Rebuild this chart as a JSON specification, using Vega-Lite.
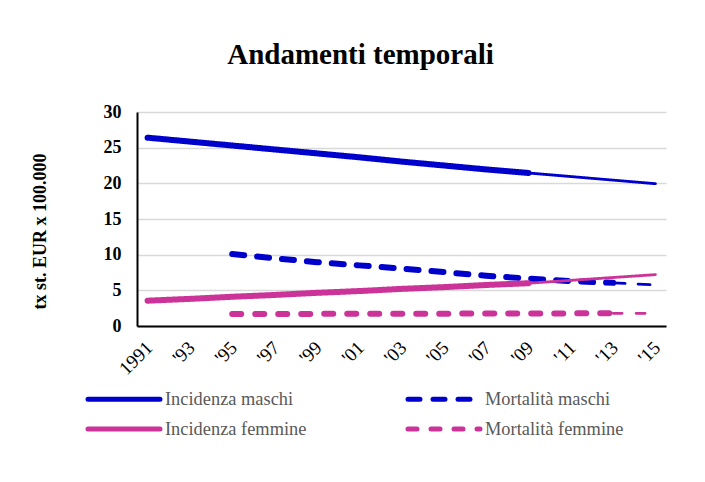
{
  "$schema": "https://vega.github.io/schema/vega-lite/v6.json",
  "width": 529,
  "height": 214,
  "autosize": {"type": "none"},
  "padding": {"left": 137, "top": 112, "right": 39, "bottom": 156},
  "background": "white",
  "config": {"view": {"stroke": null}},
  "title": {"text": "Andamenti temporali", "font": "Liberation Serif", "fontSize": 29, "fontWeight": "bold", "color": "black", "anchor": "middle", "dx": -41, "offset": 10, "baseline": "alphabetic"},
  "data": {"values": [
    {"anno": 1991, "valore": 26.4, "serie": "Incidenza maschi", "fase": "oss"},
    {"anno": 1993, "valore": 25.85, "serie": "Incidenza maschi", "fase": "oss"},
    {"anno": 1995, "valore": 25.3, "serie": "Incidenza maschi", "fase": "oss"},
    {"anno": 1997, "valore": 24.75, "serie": "Incidenza maschi", "fase": "oss"},
    {"anno": 1999, "valore": 24.2, "serie": "Incidenza maschi", "fase": "oss"},
    {"anno": 2001, "valore": 23.65, "serie": "Incidenza maschi", "fase": "oss"},
    {"anno": 2003, "valore": 23.05, "serie": "Incidenza maschi", "fase": "oss"},
    {"anno": 2005, "valore": 22.5, "serie": "Incidenza maschi", "fase": "oss"},
    {"anno": 2007, "valore": 21.95, "serie": "Incidenza maschi", "fase": "oss"},
    {"anno": 2009, "valore": 21.45, "serie": "Incidenza maschi", "fase": "oss"},
    {"anno": 2009, "valore": 21.45, "serie": "Incidenza maschi", "fase": "proj"},
    {"anno": 2011, "valore": 20.95, "serie": "Incidenza maschi", "fase": "proj"},
    {"anno": 2013, "valore": 20.45, "serie": "Incidenza maschi", "fase": "proj"},
    {"anno": 2015, "valore": 19.95, "serie": "Incidenza maschi", "fase": "proj"},
    {"anno": 1995, "valore": 10.1, "serie": "Mortalità maschi", "fase": "oss"},
    {"anno": 1997, "valore": 9.5, "serie": "Mortalità maschi", "fase": "oss"},
    {"anno": 1999, "valore": 8.95, "serie": "Mortalità maschi", "fase": "oss"},
    {"anno": 2001, "valore": 8.5, "serie": "Mortalità maschi", "fase": "oss"},
    {"anno": 2003, "valore": 8.05, "serie": "Mortalità maschi", "fase": "oss"},
    {"anno": 2005, "valore": 7.55, "serie": "Mortalità maschi", "fase": "oss"},
    {"anno": 2007, "valore": 7.05, "serie": "Mortalità maschi", "fase": "oss"},
    {"anno": 2009, "valore": 6.65, "serie": "Mortalità maschi", "fase": "oss"},
    {"anno": 2011, "valore": 6.3, "serie": "Mortalità maschi", "fase": "oss"},
    {"anno": 2013, "valore": 6.05, "serie": "Mortalità maschi", "fase": "oss"},
    {"anno": 2013, "valore": 6.05, "serie": "Mortalità maschi", "fase": "proj"},
    {"anno": 2015, "valore": 5.75, "serie": "Mortalità maschi", "fase": "proj"},
    {"anno": 1991, "valore": 3.55, "serie": "Incidenza femmine", "fase": "oss"},
    {"anno": 1993, "valore": 3.8, "serie": "Incidenza femmine", "fase": "oss"},
    {"anno": 1995, "valore": 4.1, "serie": "Incidenza femmine", "fase": "oss"},
    {"anno": 1997, "valore": 4.35, "serie": "Incidenza femmine", "fase": "oss"},
    {"anno": 1999, "valore": 4.65, "serie": "Incidenza femmine", "fase": "oss"},
    {"anno": 2001, "valore": 4.9, "serie": "Incidenza femmine", "fase": "oss"},
    {"anno": 2003, "valore": 5.2, "serie": "Incidenza femmine", "fase": "oss"},
    {"anno": 2005, "valore": 5.45, "serie": "Incidenza femmine", "fase": "oss"},
    {"anno": 2007, "valore": 5.75, "serie": "Incidenza femmine", "fase": "oss"},
    {"anno": 2009, "valore": 6.0, "serie": "Incidenza femmine", "fase": "oss"},
    {"anno": 2009, "valore": 6.0, "serie": "Incidenza femmine", "fase": "proj"},
    {"anno": 2011, "valore": 6.4, "serie": "Incidenza femmine", "fase": "proj"},
    {"anno": 2013, "valore": 6.8, "serie": "Incidenza femmine", "fase": "proj"},
    {"anno": 2015, "valore": 7.2, "serie": "Incidenza femmine", "fase": "proj"},
    {"anno": 1995, "valore": 1.68, "serie": "Mortalità femmine", "fase": "oss"},
    {"anno": 1997, "valore": 1.69, "serie": "Mortalità femmine", "fase": "oss"},
    {"anno": 1999, "valore": 1.7, "serie": "Mortalità femmine", "fase": "oss"},
    {"anno": 2001, "valore": 1.71, "serie": "Mortalità femmine", "fase": "oss"},
    {"anno": 2003, "valore": 1.72, "serie": "Mortalità femmine", "fase": "oss"},
    {"anno": 2005, "valore": 1.73, "serie": "Mortalità femmine", "fase": "oss"},
    {"anno": 2007, "valore": 1.75, "serie": "Mortalità femmine", "fase": "oss"},
    {"anno": 2009, "valore": 1.76, "serie": "Mortalità femmine", "fase": "oss"},
    {"anno": 2011, "valore": 1.77, "serie": "Mortalità femmine", "fase": "oss"},
    {"anno": 2013, "valore": 1.78, "serie": "Mortalità femmine", "fase": "oss"},
    {"anno": 2013, "valore": 1.78, "serie": "Mortalità femmine", "fase": "proj"},
    {"anno": 2015, "valore": 1.78, "serie": "Mortalità femmine", "fase": "proj"}
  ]},
  "mark": {"type": "line", "strokeCap": "round", "strokeJoin": "round"},
  "encoding": {
    "x": {
      "field": "anno", "type": "quantitative",
      "scale": {"domain": [1990.5, 2015.5], "nice": false, "zero": false},
      "axis": {
        "values": [1991, 1993, 1995, 1997, 1999, 2001, 2003, 2005, 2007, 2009, 2011, 2013, 2015],
        "labelExpr": "datum.value == 1991 ? '1991' : \"'\" + substring(toString(datum.value), 2, 4)",
        "labelAngle": -45, "labelFont": "Liberation Serif", "labelFontSize": 19, "labelColor": "black",
        "labelOverlap": false, "labelFlush": false, "labelPadding": 12, "labelOffset": -5,
        "ticks": false, "grid": false, "domainColor": "black", "domainWidth": 2, "title": null
      }
    },
    "y": {
      "field": "valore", "type": "quantitative",
      "scale": {"domain": [0, 30], "nice": false},
      "axis": {
        "values": [0, 5, 10, 15, 20, 25, 30],
        "labelFont": "Liberation Serif", "labelFontSize": 18, "labelFontWeight": "bold", "labelColor": "black",
        "labelPadding": 16, "ticks": false,
        "gridColor": "#D9D9D9", "gridWidth": 1.3,
        "domainColor": "black", "domainWidth": 2,
        "title": "tx st. EUR x 100.000", "titleFont": "Liberation Serif", "titleFontSize": 18, "titleFontWeight": "bold", "titleColor": "black",
        "titleAngle": -90, "titleX": -97, "titleY": 119, "titleAlign": "center", "titleBaseline": "middle"
      }
    },
    "color": {
      "field": "serie", "type": "nominal",
      "scale": {"domain": ["Incidenza maschi", "Incidenza femmine", "Mortalità maschi", "Mortalità femmine"], "range": ["#0000CC", "#CC3399", "#0000CC", "#CC3399"]},
      "legend": {
        "orient": "none", "legendX": -25.5, "legendY": 274.5, "columns": 2, "title": null,
        "symbolType": "M-3.6,0H3.6", "symbolSize": 400, "symbolStrokeWidth": 5,
        "labelFont": "Liberation Serif", "labelFontSize": 18.4, "labelColor": "#595959", "labelOffset": 28.5, "labelLimit": 300,
        "columnPadding": 91, "rowPadding": 7,
        "encode": {"symbols": {"update": {"strokeCap": {"value": "round"}}}}
      }
    },
    "strokeDash": {
      "field": "serie", "type": "nominal",
      "scale": {"domain": ["Incidenza maschi", "Incidenza femmine", "Mortalità maschi", "Mortalità femmine"], "range": [[1, 0], [1, 0], [12, 13], [9, 14]]},
      "legend": {
        "orient": "none", "legendX": -25.5, "legendY": 274.5, "columns": 2, "title": null,
        "symbolType": "M-3.6,0H3.6", "symbolSize": 400, "symbolStrokeWidth": 5,
        "labelFont": "Liberation Serif", "labelFontSize": 18.4, "labelColor": "#595959", "labelOffset": 28.5, "labelLimit": 300,
        "columnPadding": 91, "rowPadding": 7,
        "encode": {"symbols": {"update": {"strokeCap": {"value": "round"}}}}
      }
    },
    "strokeWidth": {
      "field": "fase", "type": "ordinal",
      "scale": {"domain": ["oss", "proj"], "range": [6, 2.8]},
      "legend": null
    }
  }
}
